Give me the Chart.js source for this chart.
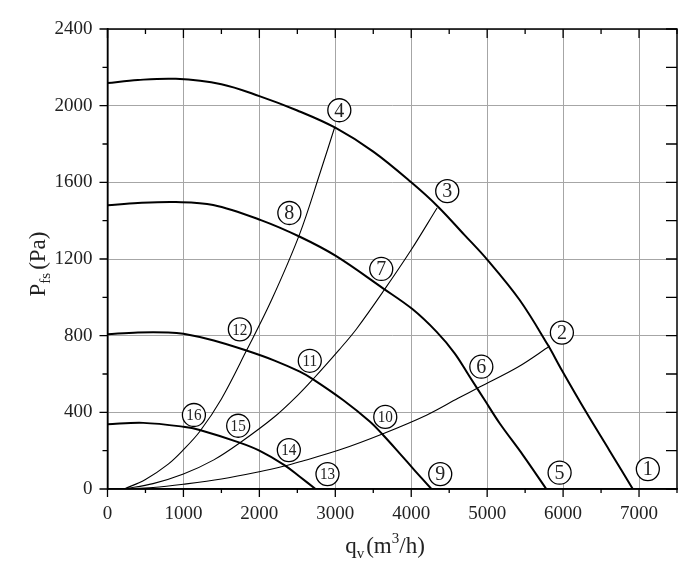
<!DOCTYPE html>
<html>
<head>
<meta charset="utf-8">
<script src="https://cdn.jsdelivr.net/npm/chart.js@4.4.1/dist/chart.umd.min.js"></script>
<style>
html,body{margin:0;padding:0;background:#fff;}
#wrap{width:700px;height:578px;position:relative;}
</style>
</head>
<body>
<div id="wrap"><canvas id="c" width="700" height="578"></canvas></div>
<script>
// ---- data (qv in m3/h, P in Pa) ----
const xTicks = [0,1000,2000,3000,4000,5000,6000,7000];
const yTicks = [0,400,800,1200,1600,2000,2400];

const fan1Q = [0,400,900,1500,2000,2500,3000,3500,4000,4353,4700,5000,5428,5800,5976,6305,6612,6918];
const fan1P = [2118,2134,2140,2112,2050,1975,1885,1760,1600,1473,1326,1197,986,751,625,400,200,0];

const fan2Q = [0,400,900,1392,2020,2533,3007,3629,4011,4332,4572,4770,4967,5164,5471,5779];
const fan2P = [1480,1492,1497,1482,1403,1316,1216,1047,940,821,708,586,464,343,177,0];

const fan3Q = [0,400,800,1000,1400,1810,2200,2533,2708,3102,3454,3629,3850,4050,4266];
const fan3P = [808,817,817,810,775,725,670,612,572,464,352,282,185,95,0];

const fan4Q = [0,470,1000,1215,1740,2000,2330,2533,2740];
const fan4P = [338,345,325,308,242,200,125,64,0];

const sysAQ = [220,500,800,1000,1215,1500,1830,2160,2530,2800,2990];
const sysAP = [0,50,130,205,300,470,722,986,1330,1650,1885];

const sysBQ = [220,600,1000,1400,1740,2200,2533,2700,3050,3279,3640,4000,4340];
const sysBP = [0,28,78,152,240,377,500,570,726,835,1036,1248,1466];

const sysCQ = [220,600,1000,1500,2000,2330,2533,3050,3620,4200,4616,4900,5400,5825];
const sysCP = [0,8,25,52,90,120,142,203,287,385,473,532,635,746];

const labelNums = ["1","2","3","4","5","6","7","8","9","10","11","12","13","14","15","16"];
const labelQ = [7116,5984,4474,3053,5954,4923,3605,2395,4382,3658,2664,1743,2897,2388,1721,1138];
const labelP = [104,816,1554,1976,85,638,1148,1440,78,376,669,833,78,203,330,386];

// ---- build ----
function pts(qs, ps){ return qs.map((q,i)=>({x:q,y:ps[i]})); }
function ds(qs, ps, w){
  return {data:pts(qs,ps), showLine:true, borderColor:'#000', borderWidth:w,
          pointRadius:0, tension:0.35, fill:false};
}
const SERIF = "'Liberation Serif', 'DejaVu Serif', serif";

const decor = {
  id:'decor',
  afterDatasetsDraw(chart){
    const ctx = chart.ctx, xs = chart.scales.x, ys = chart.scales.y;
    ctx.save();
    labelNums.forEach((t,i)=>{
      const px = xs.getPixelForValue(labelQ[i]);
      const py = ys.getPixelForValue(labelP[i]);
      ctx.beginPath();
      ctx.arc(px, py, 11.5, 0, Math.PI*2);
      ctx.fillStyle = '#fff';
      ctx.fill();
      ctx.lineWidth = 1.3;
      ctx.strokeStyle = '#000';
      ctx.stroke();
      ctx.fillStyle = '#222';
      ctx.textAlign = 'center';
      ctx.textBaseline = 'middle';
      if (t.length === 1) {
        ctx.font = "20px " + SERIF;
        ctx.fillText(t, px, py + 1);
      } else {
        ctx.font = "16px " + SERIF;
        ctx.save();
        ctx.translate(px, py + 1);
        ctx.scale(0.95, 1);
        ctx.fillText(t, 0, 0);
        ctx.restore();
      }
    });
    ctx.restore();
  },
  afterDraw(chart){
    const ctx = chart.ctx, a = chart.chartArea, xs = chart.scales.x, ys = chart.scales.y;
    ctx.save();
    ctx.strokeStyle = '#000';
    ctx.lineWidth = 1.5;
    ctx.strokeRect(a.left, a.top, a.right - a.left, a.bottom - a.top);
    ctx.lineWidth = 1.3;
    ctx.beginPath();
    for (let v = 0; v <= 7500; v += 500) {
      const px = xs.getPixelForValue(v);
      const major = v % 1000 === 0;
      ctx.moveTo(px, a.bottom); ctx.lineTo(px, a.bottom + (major ? 8 : 4));
      ctx.moveTo(px, a.top); ctx.lineTo(px, a.top + (major ? 9 : 5));
    }
    for (let v = 0; v <= 2400; v += 200) {
      const py = ys.getPixelForValue(v);
      const major = v % 400 === 0;
      ctx.moveTo(a.left, py); ctx.lineTo(a.left - (major ? 8 : 5), py);
      ctx.moveTo(a.right, py); ctx.lineTo(a.right - 11, py);
    }
    ctx.stroke();

    // axis titles
    ctx.fillStyle = '#222';
    ctx.textBaseline = 'alphabetic';
    const big = "23px " + SERIF, small = "15px " + SERIF;
    // x title: q_v (m^3/h)
    const parts = [
      {t:'q', f:big, dy:0, gap:0}, {t:'v', f:small, dy:5, gap:2},
      {t:'(m', f:big, dy:0, gap:0}, {t:'3', f:small, dy:-10, gap:0}, {t:'/h)', f:big, dy:0, gap:0}
    ];
    let tw = 0;
    parts.forEach(p=>{ ctx.font = p.f; p.w = ctx.measureText(p.t).width; tw += p.w + p.gap; });
    let x0 = 385 - tw / 2;
    const baseY = 553;
    ctx.textAlign = 'left';
    parts.forEach(p=>{ ctx.font = p.f; ctx.fillText(p.t, x0, baseY + p.dy); x0 += p.w + p.gap; });

    // y title: P_fs (Pa) rotated
    const yparts = [
      {t:'P', f:big, dy:0, gap:0}, {t:'fs', f:small, dy:5, gap:3}, {t:'(Pa)', f:big, dy:0, gap:0}
    ];
    let th = 0;
    yparts.forEach(p=>{ ctx.font = p.f; p.w = ctx.measureText(p.t).width; th += p.w + p.gap; });
    ctx.translate(45, 264);
    ctx.rotate(-Math.PI/2);
    let s = -th / 2;
    yparts.forEach(p=>{ ctx.font = p.f; ctx.fillText(p.t, s, p.dy); s += p.w + p.gap; });
    ctx.restore();
  }
};

new Chart(document.getElementById('c'), {
  type:'scatter',
  data:{ datasets:[
    ds(fan1Q, fan1P, 2), ds(fan2Q, fan2P, 2), ds(fan3Q, fan3P, 2), ds(fan4Q, fan4P, 2),
    ds(sysAQ, sysAP, 1.1), ds(sysBQ, sysBP, 1.1), ds(sysCQ, sysCP, 1.1)
  ]},
  options:{
    responsive:false, animation:false, devicePixelRatio:1,
    layout:{ padding:{ left:0, right:23, top:29, bottom:0 } },
    plugins:{ legend:{display:false}, tooltip:{enabled:false} },
    scales:{
      x:{ type:'linear', min:0, max:7500,
        afterBuildTicks: s => { s.ticks = xTicks.map(v=>({value:v})); },
        afterFit: s => { s.height = 89; },
        grid:{ color:'#a6a6a6', lineWidth:1, drawTicks:false },
        border:{ display:true, color:'#000', width:1.5 },
        ticks:{ padding:14, color:'#222', font:{ family:SERIF, size:19 }, maxRotation:0,
          callback: v => String(v) }
      },
      y:{ type:'linear', min:0, max:2400,
        afterBuildTicks: s => { s.ticks = yTicks.map(v=>({value:v})); },
        afterFit: s => { s.width = 107.5; },
        grid:{ color:'#a6a6a6', lineWidth:1, drawTicks:false },
        border:{ display:true, color:'#000', width:1.5 },
        ticks:{ padding:15, color:'#222', font:{ family:SERIF, size:19 },
          callback: v => String(v) }
      }
    }
  },
  plugins:[decor]
});
</script>
</body>
</html>
